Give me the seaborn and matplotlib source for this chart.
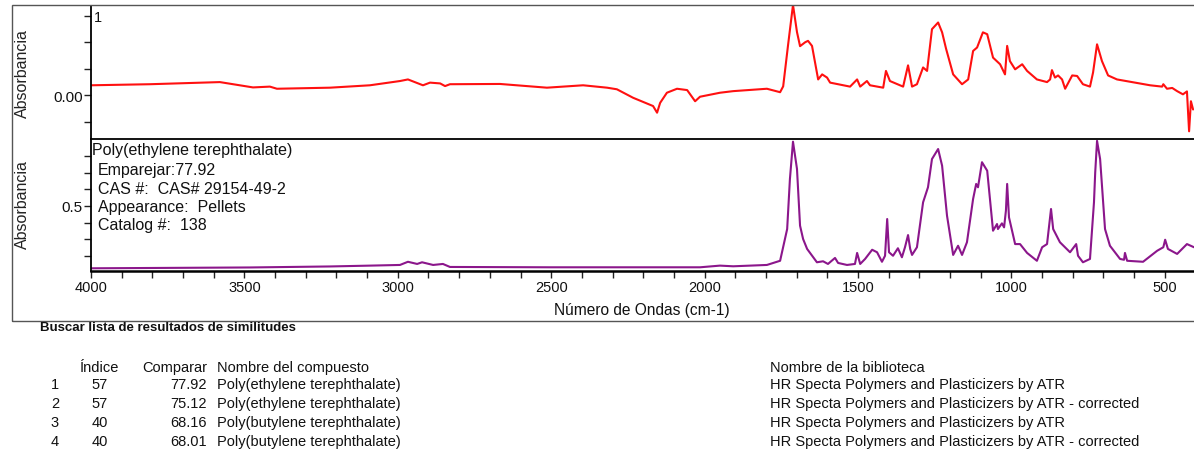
import pandas as pd
import matplotlib
matplotlib.use('Agg')
import matplotlib.pyplot as plt
import matplotlib.patches as patches
import seaborn as sns

# ---- Data -------------------------------------------------------------------
# sample spectrum (top, red)
muestra_wn = [4000, 3808, 3580, 3472, 3417, 3394, 3221, 3091, 2993, 2967, 2918, 2895,
              2862, 2846, 2830, 2667, 2514, 2396, 2318, 2286, 2233, 2168, 2155, 2145,
              2123, 2090, 2057, 2031, 2015, 1976, 1950, 1907, 1797, 1754, 1744, 1728, 1712,
              1699, 1689, 1672, 1663, 1650, 1630, 1617, 1601, 1591, 1526, 1503, 1493, 1471,
              1461, 1418, 1409, 1396, 1353, 1337, 1324, 1308, 1288, 1275, 1259, 1239,
              1226, 1213, 1190, 1161, 1141, 1125, 1112, 1093, 1079, 1060, 1037, 1021, 1014,
              1005, 988, 965, 949, 917, 884, 874, 868, 858, 848, 835, 825, 802, 786,
              767, 744, 734, 721, 705, 685, 656, 548, 509, 505, 493, 476, 460, 441,
              428, 421, 415, 408]
muestra_abs = [0.038, 0.042, 0.050, 0.030, 0.033, 0.025, 0.029, 0.038, 0.054, 0.060, 0.038, 0.048,
               0.045, 0.035, 0.042, 0.043, 0.029, 0.038, 0.029, 0.023, -0.009, -0.040, -0.065, -0.028,
               0.010, 0.025, 0.020, -0.022, -0.005, 0.004, 0.010, 0.016, 0.025, 0.012, 0.034, 0.190, 0.340,
               0.238, 0.185, 0.200, 0.205, 0.186, 0.060, 0.079, 0.067, 0.048, 0.033, 0.060, 0.033, 0.054,
               0.038, 0.029, 0.092, 0.054, 0.033, 0.113, 0.033, 0.042, 0.105, 0.092, 0.249, 0.274,
               0.237, 0.175, 0.079, 0.042, 0.060, 0.167, 0.180, 0.237, 0.230, 0.142, 0.117, 0.079, 0.186,
               0.129, 0.098, 0.117, 0.092, 0.060, 0.050, 0.060, 0.095, 0.067, 0.075, 0.060, 0.025,
               0.075, 0.073, 0.042, 0.033, 0.086, 0.192, 0.129, 0.075, 0.060, 0.038, 0.033, 0.042,
               0.025, 0.028, 0.016, 0.004, 0.015, -0.135, -0.022, -0.053]

# library match (bottom, purple)
pet_wn = [4000, 3482, 3221, 3091, 2993, 2967, 2937, 2921, 2885, 2853, 2830, 2504, 2015,
          1950, 1907, 1797, 1754, 1731, 1722, 1712, 1699, 1689, 1679, 1666, 1634, 1614, 1598, 1575,
          1565, 1536, 1510, 1503, 1493, 1477, 1454, 1438, 1422, 1412, 1405, 1399, 1386,
          1370, 1357, 1347, 1337, 1330, 1324, 1308, 1288, 1272, 1259, 1239, 1226, 1210,
          1190, 1174, 1161, 1145, 1125, 1115, 1109, 1096, 1079, 1060, 1047, 1044, 1031,
          1024, 1018, 1014, 1008, 988, 972, 949, 917, 900, 884, 871, 864, 842, 809, 789,
          783, 767, 744, 731, 727, 721, 711, 695, 679, 646, 633, 630, 623, 571, 525, 505, 499,
          490, 460, 428, 405]
pet_abs = [0.127, 0.132, 0.138, 0.143, 0.147, 0.166, 0.153, 0.163, 0.147, 0.153, 0.135, 0.133, 0.133,
           0.143, 0.139, 0.147, 0.172, 0.362, 0.662, 0.885, 0.722, 0.382, 0.302, 0.243, 0.163, 0.169, 0.153, 0.189,
           0.159, 0.147, 0.153, 0.219, 0.153, 0.183, 0.238, 0.223, 0.166, 0.202, 0.422, 0.223, 0.202,
           0.247, 0.193, 0.253, 0.326, 0.243, 0.207, 0.253, 0.522, 0.612, 0.781, 0.841, 0.741, 0.442,
           0.207, 0.262, 0.207, 0.283, 0.542, 0.632, 0.612, 0.762, 0.711, 0.352, 0.392, 0.362, 0.396,
           0.372, 0.472, 0.632, 0.432, 0.272, 0.272, 0.219, 0.172, 0.253, 0.272, 0.482, 0.362, 0.283,
           0.223, 0.272, 0.202, 0.163, 0.183, 0.522, 0.700, 0.890, 0.781, 0.362, 0.262, 0.183, 0.178, 0.219,
           0.172, 0.166, 0.232, 0.253, 0.298, 0.243, 0.213, 0.272, 0.253]

match_info = ['Emparejar:77.92', 'CAS #:  CAS# 29154-49-2', 'Appearance:  Pellets', 'Catalog #:  138']

# results table
headers = ['Índice', 'Comparar', 'Nombre del compuesto', 'Nombre de la biblioteca']
row_num = ['1', '2', '3', '4']
indice = ['57', '57', '40', '40']
comparar = ['77.92', '75.12', '68.16', '68.01']
compuesto = ['Poly(ethylene terephthalate)', 'Poly(ethylene terephthalate)',
             'Poly(butylene terephthalate)', 'Poly(butylene terephthalate)']
biblioteca = ['HR Specta Polymers and Plasticizers by ATR',
              'HR Specta Polymers and Plasticizers by ATR - corrected',
              'HR Specta Polymers and Plasticizers by ATR',
              'HR Specta Polymers and Plasticizers by ATR - corrected']

muestra_df = pd.DataFrame({'wn': muestra_wn, 'abs': muestra_abs})
pet_df = pd.DataFrame({'wn': pet_wn, 'abs': pet_abs})

# ---- Figure ------------------------------------------------------------------
sns.set_style('white')
plt.rcParams['font.family'] = ['Liberation Sans', 'DejaVu Sans']

W, H = 1194, 452
fig = plt.figure(figsize=(W / 100, H / 100), dpi=100)

def fx(px):
    return px / W

def fy(py):
    return 1 - py / H

ax1 = fig.add_axes([fx(91), fy(139.5), 1 - fx(91), fy(7) - fy(139.5)])
ax2 = fig.add_axes([fx(91), fy(271.7), 1 - fx(91), fy(140) - fy(271.7)])

sns.lineplot(data=muestra_df, x='wn', y='abs', ax=ax1, color='#ff1010',
             linewidth=1.5, sort=False, estimator=None)
sns.lineplot(data=pet_df, x='wn', y='abs', ax=ax2, color='#8b168b',
             linewidth=1.5, sort=False, estimator=None)

for ax in (ax1, ax2):
    ax.set_xlim(4000, 405)
    ax.set_xlabel('')
    ax.set_ylabel('')
    ax.set_facecolor('white')
    ax.spines['right'].set_visible(False)
    ax.spines['left'].set_color('black')
    ax.spines['left'].set_linewidth(1.3)
    ax.tick_params(axis='y', left=True, direction='out', length=5, width=1, color='#222',
                   labelsize=11, labelcolor='#111', pad=1)

# top panel
ax1.set_ylim(-0.162, 0.336)
ax1.set_yticks([-0.1, 0.0, 0.1, 0.2, 0.3])
ax1.set_yticklabels(['', '0.00', '', '', ''])
ax1.set_xticks([])
ax1.spines['top'].set_visible(False)
ax1.spines['bottom'].set_visible(False)

# bottom panel
ax2.set_ylim(0.1126, 0.901)
ax2.set_yticks([0.2, 0.3, 0.4, 0.5, 0.6, 0.7, 0.8])
ax2.set_yticklabels(['', '', '', '0.5', '', '', ''])
ax2.spines['top'].set_color('black')
ax2.spines['top'].set_linewidth(1.3)
ax2.spines['bottom'].set_color('black')
ax2.spines['bottom'].set_linewidth(1.8)
xt = list(range(4000, 400, -100))
ax2.set_xticks(xt)
ax2.set_xticklabels([str(t) if t % 500 == 0 else '' for t in xt])
ax2.tick_params(axis='x', bottom=True, direction='out', length=5, width=1, color='#222',
                labelsize=10.5, labelcolor='#111', pad=2)

# outer frame
fig.add_artist(patches.Rectangle((fx(12), fy(322)), 1.05, fy(6) - fy(322),
                                 transform=fig.transFigure, fill=False,
                                 edgecolor='#555555', linewidth=1.0))

# axis labels
fig.text(fx(22), fy(74), 'Absorbancia', rotation=90, ha='center', va='center',
         fontsize=11.5, color='#222')
fig.text(fx(22), fy(205), 'Absorbancia', rotation=90, ha='center', va='center',
         fontsize=11.5, color='#222')
fig.text(fx(642), fy(311), 'Número de Ondas (cm-1)', ha='center', va='center',
         fontsize=11.2, color='#111')
fig.text(fx(94), fy(18), '1', ha='left', va='center', fontsize=10.5, color='#111')

# match info block
fig.text(fx(92), fy(151), 'Poly(ethylene terephthalate)', ha='left', va='center',
         fontsize=11.5, color='#111')
for i, line in enumerate(match_info):
    fig.text(fx(98), fy(171 + i * 18.2), line, ha='left', va='center',
             fontsize=11.5, color='#111')

# results table
fig.text(fx(40), fy(328), 'Buscar lista de resultados de similitudes', ha='left',
         va='center', fontsize=9.5, fontweight='bold', color='#111')
fs = 10.5
hy = 368
fig.text(fx(100), fy(hy), headers[0], ha='center', va='center', fontsize=fs, color='#111')
fig.text(fx(207), fy(hy), headers[1], ha='right', va='center', fontsize=fs, color='#111')
fig.text(fx(217), fy(hy), headers[2], ha='left', va='center', fontsize=fs, color='#111')
fig.text(fx(770), fy(hy), headers[3], ha='left', va='center', fontsize=fs, color='#111')
for i in range(len(row_num)):
    y = fy(385.5 + i * 19)
    fig.text(fx(55), y, row_num[i], ha='center', va='center', fontsize=fs, color='#111')
    fig.text(fx(100), y, indice[i], ha='center', va='center', fontsize=fs, color='#111')
    fig.text(fx(207), y, comparar[i], ha='right', va='center', fontsize=fs, color='#111')
    fig.text(fx(217), y, compuesto[i], ha='left', va='center', fontsize=fs, color='#111')
    fig.text(fx(770), y, biblioteca[i], ha='left', va='center', fontsize=fs, color='#111')

fig.savefig('out.png', dpi=100, facecolor='white')
